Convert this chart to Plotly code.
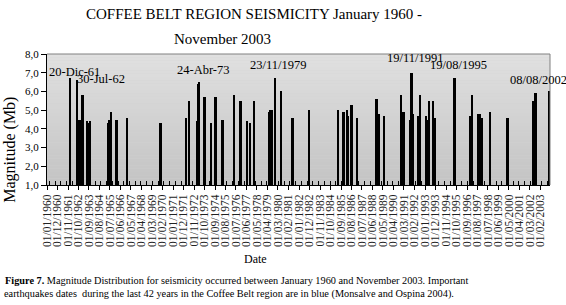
import plotly.graph_objects as go

# ---------------- data ----------------
event_dates = [
    "1961-12-20", "1962-07-30", "1962-10-12", "1962-11-20", "1963-01-15", "1963-02-20",
    "1963-06-17", "1963-08-14", "1963-09-15", "1963-10-07", "1965-04-23", "1965-05-26",
    "1965-08-18", "1966-01-05", "1966-02-10", "1967-01-09", "1969-11-10", "1969-12-15",
    "1972-03-01", "1972-06-08", "1973-02-10", "1973-03-22", "1973-04-24", "1973-09-10",
    "1973-10-15", "1974-05-10", "1974-08-26", "1974-10-01", "1975-04-16", "1975-05-20",
    "1976-05-13", "1976-11-01", "1976-12-05", "1977-07-01", "1977-10-05", "1978-02-10",
    "1979-05-15", "1979-06-25", "1979-09-06", "1979-11-23", "1980-06-20", "1981-05-27",
    "1981-07-01", "1982-11-28", "1985-06-12", "1985-10-30", "1985-12-05", "1986-03-25",
    "1986-04-26", "1986-07-12", "1986-08-15", "1987-01-13", "1988-09-26", "1988-10-30",
    "1988-12-24", "1989-06-18", "1990-11-15", "1991-01-25", "1991-02-28", "1991-03-17",
    "1991-08-29", "1991-10-20", "1991-11-19", "1991-12-28", "1992-06-05", "1992-07-05",
    "1992-08-08", "1993-01-22", "1993-04-20", "1993-05-22", "1993-09-27", "1993-11-29",
    "1995-07-15", "1995-08-19", "1996-11-24", "1997-02-22", "1997-08-15", "1997-09-14",
    "1997-10-26", "1997-12-13", "1998-08-24", "2000-03-01", "2000-04-05", "2002-06-21",
    "2002-08-08", "2002-09-10", "2003-10-24", "2003-11-12",
]
magnitudes = [
    6.7, 6.6, 4.5, 4.5, 5.8, 5.8,
    4.4, 4.3, 4.3, 4.4, 4.3, 4.5,
    4.9, 4.5, 4.5, 4.6, 4.3, 4.3,
    4.6, 5.5, 4.4, 6.4, 6.5, 5.7,
    5.7, 4.3, 5.7, 5.7, 4.5, 4.5,
    5.8, 5.5, 5.5, 4.4, 4.3, 5.5,
    4.9, 5.0, 5.0, 6.7, 6.0, 4.6,
    4.6, 5.0, 5.0, 4.9, 4.9, 5.0,
    4.7, 5.3, 5.3, 4.6, 5.6, 5.6,
    4.8, 4.7, 5.8, 4.9, 4.9, 4.9,
    4.5, 7.0, 7.0, 4.8, 4.7, 4.7,
    5.8, 4.7, 4.5, 5.5, 5.5, 4.6,
    6.7, 6.7, 4.7, 5.8, 4.8, 4.8,
    4.8, 4.6, 4.9, 4.6, 4.6, 5.5,
    5.9, 5.9, 4.7, 6.0,
]

important_labels = ["20-Dic-61", "30-Jul-62", "24-Abr-73", "23/11/1979",
                    "19/11/1991", "19/08/1995", "08/08/2002"]

title_line1 = "COFFEE BELT REGION SEISMICITY January 1960 -"
title_line2 = "November 2003"
x_title = "Date"
y_title = "Magnitude (Mb)"
caption1 = ("<b>Figure 7.</b> Magnitude Distribution for seismicity occurred between "
            "January 1960 and November 2003. Important")
caption2 = ("earthquakes dates  during the last 42 years in the Coffee Belt region are "
            "in blue (Monsalve and Ospina 2004).")

# ---------------- layout helpers ----------------
W, H = 566, 305
L, R, T, B = 47, 550, 53.5, 185.5
FONT = "Liberation Serif, Times New Roman, serif"


def px(x):
    return (x - L) / (R - L)


def py(y):
    return (B - y) / (B - T)


fig = go.Figure()
fig.add_trace(go.Bar(
    x=event_dates, y=[m - 1.0 for m in magnitudes], base=1.0,
    width=1000 * 86400 * 32, marker=dict(color="black", line=dict(width=0)),
    hoverinfo="x+y",
))

# background gradient bands (plot area)
shapes = []
n = 40
c_top, c_bot = (224, 224, 224), (196, 196, 196)
for i in range(n):
    t = i / (n - 1)
    c = tuple(int(round(c_top[k] + (c_bot[k] - c_top[k]) * t)) for k in range(3))
    shapes.append(dict(type="rect", xref="x domain", yref="y domain",
                       x0=0, x1=1, y0=1 - (i + 1) / n, y1=1 - i / n,
                       fillcolor="rgb(%d,%d,%d)" % c, line=dict(width=0), layer="below"))
# gray frame top/right
shapes.append(dict(type="line", xref="x domain", yref="y domain", x0=0, x1=1, y0=1, y1=1,
                   line=dict(color="#808080", width=1)))
shapes.append(dict(type="line", xref="x domain", yref="y domain", x0=1, x1=1, y0=0, y1=1,
                   line=dict(color="#808080", width=1)))

annotations = []
label_pos = [(47, 72), (75, 79), (175, 70), (248, 65), (385, 58), (428, 65), (508, 80)]
for txt, (ax, ay) in zip(important_labels, label_pos):
    annotations.append(dict(text=txt, xref="paper", yref="paper", x=px(ax), y=py(ay),
                            xanchor="left", yanchor="middle", showarrow=False,
                            font=dict(family=FONT, size=12.5, color="black")))

annotations += [
    dict(text=title_line1, xref="paper", yref="paper", x=px(254), y=py(13),
         xanchor="center", yanchor="middle", showarrow=False,
         font=dict(family=FONT, size=15, color="black")),
    dict(text=title_line2, xref="paper", yref="paper", x=px(222), y=py(38),
         xanchor="center", yanchor="middle", showarrow=False,
         font=dict(family=FONT, size=15, color="black")),
    dict(text=x_title, xref="paper", yref="paper", x=px(255), y=py(260),
         xanchor="center", yanchor="middle", showarrow=False,
         font=dict(family=FONT, size=12, color="black")),
    dict(text=y_title, xref="paper", yref="paper", x=px(10), y=py(150),
         xanchor="center", yanchor="middle", showarrow=False, textangle=-90,
         font=dict(family=FONT, size=16, color="black")),
    dict(text=caption1, xref="paper", yref="paper", x=px(3), y=py(282),
         xanchor="left", yanchor="middle", showarrow=False,
         font=dict(family=FONT, size=10.3, color="black")),
    dict(text=caption2, xref="paper", yref="paper", x=px(2), y=py(295),
         xanchor="left", yanchor="middle", showarrow=False,
         font=dict(family=FONT, size=10.3, color="black")),
]

fig.update_layout(
    width=W, height=H,
    margin=dict(l=L, r=W - R, t=T, b=H - B, pad=0),
    paper_bgcolor="white", plot_bgcolor="#d2d2d2",
    showlegend=False, bargap=0,
    separators=",.",
    shapes=shapes, annotations=annotations,
    font=dict(family=FONT, color="black"),
)
fig.update_xaxes(
    type="date", range=["1960-01-01", "2003-11-30"],
    tick0="1960-01-01", dtick="M11", tickformat="%d/%m/%Y", tickangle=-90,
    ticks="outside", ticklen=4, tickcolor="black", tickwidth=1,
    tickfont=dict(family=FONT, size=11.5, color="#222"),
    showline=True, linecolor="black", linewidth=1, showgrid=False, zeroline=False,
    minor=dict(ticks="inside", dtick="M6", tick0="1960-03-15", ticklen=4,
               tickcolor="black", showgrid=False),
)
fig.update_yaxes(
    range=[1, 8], dtick=1, tick0=1, tickformat=".1f",
    ticks="outside", ticklen=5, tickcolor="black",
    tickfont=dict(family=FONT, size=11, color="black"),
    showline=True, linecolor="black", linewidth=1, showgrid=False, zeroline=False,
)

fig.write_html(
    "out.html",
    config={"displayModeBar": False},
    post_script="document.body.style.margin='0';document.body.style.overflow='hidden';",
)
